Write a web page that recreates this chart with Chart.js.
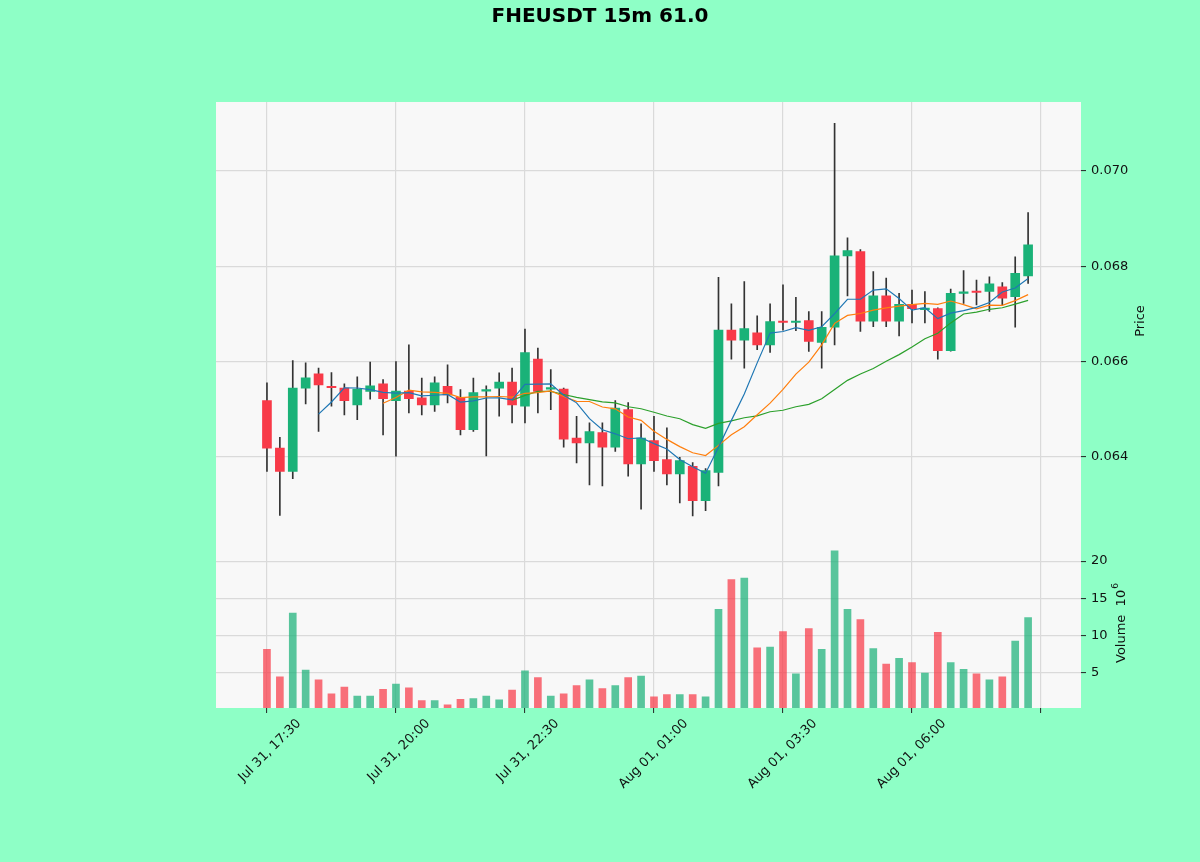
<!DOCTYPE html>
<html>
<head>
<meta charset="utf-8">
<script src="https://cdn.jsdelivr.net/npm/chart.js@4.4.0/dist/chart.umd.min.js"></script>
<style>
html,body{margin:0;padding:0;background:#8effc6;}
canvas{display:block;}
</style>
</head>
<body>
<canvas id="c" width="1200" height="862" style="width:1200px;height:862px"></canvas>
<script>
// ---- data (15m candles, Jul 31 17:30 -> Aug 01 08:15) ----
const tickPositions = [0, 10, 20, 30, 40, 50, 60];
const tickLabels = ['Jul 31, 17:30', 'Jul 31, 20:00', 'Jul 31, 22:30', 'Aug 01, 01:00', 'Aug 01, 03:30', 'Aug 01, 06:00', ''];

const opens = [0.06518,0.06418,0.06369,0.06544,0.06574,0.06546,0.06544,0.06509,0.06537,0.06553,
  0.06518,0.06538,0.06524,0.06509,0.06548,0.06525,0.06457,0.06538,0.06544,0.06557,
  0.06506,0.06605,0.06542,0.06542,0.06439,0.06429,0.06451,0.06420,0.06499,0.06385,
  0.06434,0.06394,0.06364,0.06380,0.06308,0.06367,0.06666,0.06645,0.06660,0.06635,
  0.06683,0.06682,0.06686,0.06640,0.06672,0.06822,0.06831,0.06685,0.06738,0.06685,
  0.06720,0.06709,0.06711,0.06623,0.06743,0.06746,0.06747,0.06757,0.06736,0.06780];
const highs = [0.06555,0.06441,0.06602,0.06597,0.06586,0.06577,0.06553,0.06568,0.06599,0.06562,
  0.06600,0.06635,0.06565,0.06568,0.06593,0.06541,0.06565,0.06549,0.06576,0.06586,
  0.06668,0.06628,0.06583,0.06544,0.06485,0.06471,0.06471,0.06518,0.06514,0.06469,
  0.06485,0.06461,0.06399,0.06388,0.06375,0.06777,0.06721,0.06768,0.06696,0.06721,
  0.06761,0.06735,0.06705,0.06705,0.07100,0.06860,0.06835,0.06789,0.06775,0.06743,
  0.06750,0.06747,0.06713,0.06752,0.06791,0.06771,0.06778,0.06766,0.06820,0.06913];
const lows = [0.06369,0.06277,0.06354,0.06511,0.06453,0.06506,0.06488,0.06478,0.06521,0.06446,
  0.06401,0.06492,0.06488,0.06495,0.06513,0.06446,0.06453,0.06402,0.06485,0.06471,
  0.06471,0.06492,0.06499,0.06420,0.06387,0.06341,0.06339,0.06411,0.06359,0.06290,
  0.06369,0.06341,0.06303,0.06276,0.06287,0.06339,0.06605,0.06586,0.06625,0.06619,
  0.06666,0.06665,0.06621,0.06586,0.06635,0.06738,0.06663,0.06673,0.06673,0.06654,
  0.06681,0.06681,0.06605,0.06622,0.06722,0.06719,0.06705,0.06719,0.06672,0.06764];
const closes = [0.06418,0.06369,0.06544,0.06566,0.06551,0.06545,0.06518,0.06542,0.06549,0.06522,
  0.06538,0.06522,0.06509,0.06555,0.06530,0.06457,0.06535,0.06540,0.06557,0.06509,
  0.06619,0.06537,0.06544,0.06437,0.06429,0.06453,0.06420,0.06502,0.06385,0.06439,
  0.06392,0.06364,0.06392,0.06308,0.06371,0.06666,0.06645,0.06669,0.06635,0.06684,
  0.06682,0.06685,0.06642,0.06672,0.06822,0.06833,0.06685,0.06738,0.06685,0.06720,
  0.06711,0.06711,0.06623,0.06743,0.06746,0.06745,0.06763,0.06733,0.06785,0.06845];
// volume in units of 10^6
const volumes = [8.1,4.4,13.0,5.3,4.0,2.1,3.0,1.8,1.8,2.7,
  3.4,2.9,1.2,1.2,0.63,1.35,1.45,1.8,1.3,2.6,
  5.2,4.3,1.8,2.1,3.2,4.0,2.8,3.2,4.3,4.5,
  1.7,2.0,2.0,2.0,1.7,13.5,17.5,17.7,8.3,8.4,
  10.5,4.8,10.9,8.1,21.4,13.5,12.1,8.2,6.1,6.9,
  6.3,4.9,10.4,6.3,5.4,4.8,4.0,4.4,9.2,12.4];
const priceTicks = [0.064, 0.066, 0.068, 0.070];
const volumeTicks = [5, 10, 15, 20];
const priceRange = [0.06236, 0.07145];
const maPeriods = [5, 10, 20];
const maColors = ['#1f77b4', '#ff7f0e', '#2ca02c'];
const chartTitle = 'FHEUSDT 15m 61.0';

// ---- helpers ----
const UP = '#1ab278', DOWN = '#f83a48';
const UP_VOL = 'rgba(26,178,120,0.72)', DOWN_VOL = 'rgba(248,58,72,0.72)';
const idx = opens.map((_, i) => i);
const isUp = idx.map(i => closes[i] >= opens[i]);
function rollingMean(vals, n) {
  return vals.map((_, i) => {
    if (i < n - 1) return null;
    let s = 0;
    for (let k = i - n + 1; k <= i; k++) s += vals[k];
    return s / n;
  });
}
const volMin = 0.3 * Math.min(...volumes), volMax = 1.1 * Math.max(...volumes);

const FONT = "'DejaVu Sans', 'Liberation Sans', sans-serif";
Chart.defaults.font.family = FONT;
Chart.defaults.font.size = 13;
Chart.defaults.color = '#111';

const maDatasets = maPeriods.map((p, k) => {
  const m = rollingMean(closes, p);
  return {
    type: 'line', label: 'MA' + p,
    data: idx.map(i => ({x: i, y: m[i]})),
    borderColor: maColors[k], borderWidth: 1.2, pointRadius: 0,
    tension: 0, spanGaps: false, xAxisID: 'x', yAxisID: 'y'
  };
});

const bgPlugin = {
  id: 'bg',
  beforeDraw(chart) {
    const {ctx, chartArea: a} = chart;
    ctx.save();
    ctx.fillStyle = '#8effc6';
    ctx.fillRect(0, 0, chart.width, chart.height);
    ctx.fillStyle = '#f8f8f8';
    ctx.fillRect(a.left, a.top, a.right - a.left, a.bottom - a.top);
    ctx.restore();
  },
  afterDraw(chart) {
    const ctx = chart.ctx;
    ctx.save();
    ctx.fillStyle = '#000';
    ctx.font = "bold 20px " + FONT;
    ctx.textAlign = 'center';
    ctx.textBaseline = 'middle';
    ctx.fillText(chartTitle, 600, 17);
    ctx.font = "13px " + FONT;
    ctx.fillStyle = '#111';
    // Price label
    ctx.save();
    ctx.translate(1141, 321);
    ctx.rotate(-Math.PI / 2);
    ctx.textAlign = 'center';
    ctx.fillText('Price', 0, 0);
    ctx.restore();
    // Volume label with 10^6
    ctx.save();
    ctx.translate(1122, 663);
    ctx.rotate(-Math.PI / 2);
    ctx.textAlign = 'left';
    const main = 'Volume  10';
    ctx.fillText(main, 0, 0);
    const w = ctx.measureText(main).width;
    ctx.font = "9px " + FONT;
    ctx.fillText('6', w + 1, -6);
    ctx.restore();
    ctx.restore();
  }
};

const gridStyle = {color: '#dadada', lineWidth: 1.2, tickColor: '#222', tickLength: 5, tickWidth: 1};

new Chart(document.getElementById('c'), {
  type: 'bar',
  data: {
    datasets: [
      ...maDatasets,
      {
        type: 'bar', label: 'body',
        data: idx.map(i => ({x: i, y: [opens[i], closes[i]]})),
        backgroundColor: idx.map(i => isUp[i] ? UP : DOWN),
        borderWidth: 0, barThickness: 9, minBarLength: 1.5, grouped: false,
        xAxisID: 'x', yAxisID: 'y'
      },
      {
        type: 'bar', label: 'wick',
        data: idx.map(i => ({x: i, y: [lows[i], highs[i]]})),
        backgroundColor: '#333333', borderWidth: 0, barThickness: 1, grouped: false,
        xAxisID: 'x', yAxisID: 'y'
      },
      {
        type: 'bar', label: 'volume',
        data: idx.map(i => ({x: i, y: volumes[i]})),
        backgroundColor: idx.map(i => isUp[i] ? UP_VOL : DOWN_VOL),
        borderWidth: 0, barThickness: 7, grouped: false,
        xAxisID: 'x', yAxisID: 'y2'
      }
    ]
  },
  options: {
    responsive: false,
    animation: false,
    devicePixelRatio: 1,
    layout: {padding: {left: 216, top: 102, right: 0, bottom: 0}},
    plugins: {legend: {display: false}, tooltip: {enabled: false}, title: {display: false}},
    scales: {
      x: {
        type: 'linear', position: 'bottom', offset: false,
        min: -3.95, max: 63.1,
        grid: {...gridStyle, offset: false},
        border: {display: false},
        afterBuildTicks: s => { s.ticks = tickPositions.map(v => ({value: v})); },
        afterFit: s => { s.height = 154; },
        ticks: {
          autoSkip: false, maxRotation: 45, minRotation: 45, padding: 3, labelOffset: 32,
          callback: v => { const k = tickPositions.indexOf(v); return k >= 0 ? tickLabels[k] : ''; }
        }
      },
      y: {
        type: 'linear', position: 'right', stack: 'panels', stackWeight: 2.5,
        min: priceRange[0], max: priceRange[1],
        grid: gridStyle, border: {display: false},
        afterBuildTicks: s => { s.ticks = priceTicks.map(v => ({value: v})); },
        afterFit: s => { s.width = 119; },
        ticks: {padding: 5, callback: v => v.toFixed(3)}
      },
      y2: {
        type: 'linear', position: 'right', stack: 'panels', stackWeight: 1,
        min: volMin, max: volMax,
        grid: gridStyle, border: {display: false},
        afterBuildTicks: s => { s.ticks = volumeTicks.map(v => ({value: v})); },
        afterFit: s => { s.width = 119; },
        ticks: {padding: 5, callback: v => String(v)}
      }
    }
  },
  plugins: [bgPlugin]
});
</script>
</body>
</html>
